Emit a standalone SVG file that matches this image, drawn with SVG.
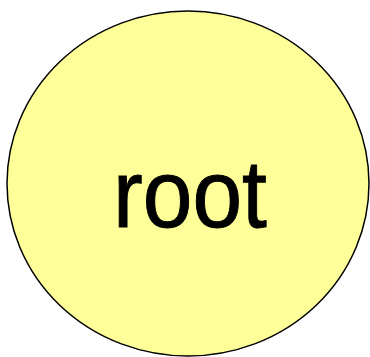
<svg xmlns="http://www.w3.org/2000/svg" width="370" height="357" viewBox="0 0 370 357">
<style>
.node{fill:#ffff99;stroke:#000;stroke-width:1.5}
.lbl{font-family:"Liberation Sans",Arial,sans-serif;font-size:96px;fill:#000;text-anchor:middle;stroke:#000;stroke-width:1}
</style>
<rect width="370" height="357" fill="#fff"/>
<g id="connectors"></g>
<g id="root">
<ellipse class="node" cx="188" cy="183.5" rx="181" ry="172.5"/>
<text class="lbl" x="0" y="227" transform="translate(190 0) scale(0.93 1)">root</text>
</g>
</svg>
